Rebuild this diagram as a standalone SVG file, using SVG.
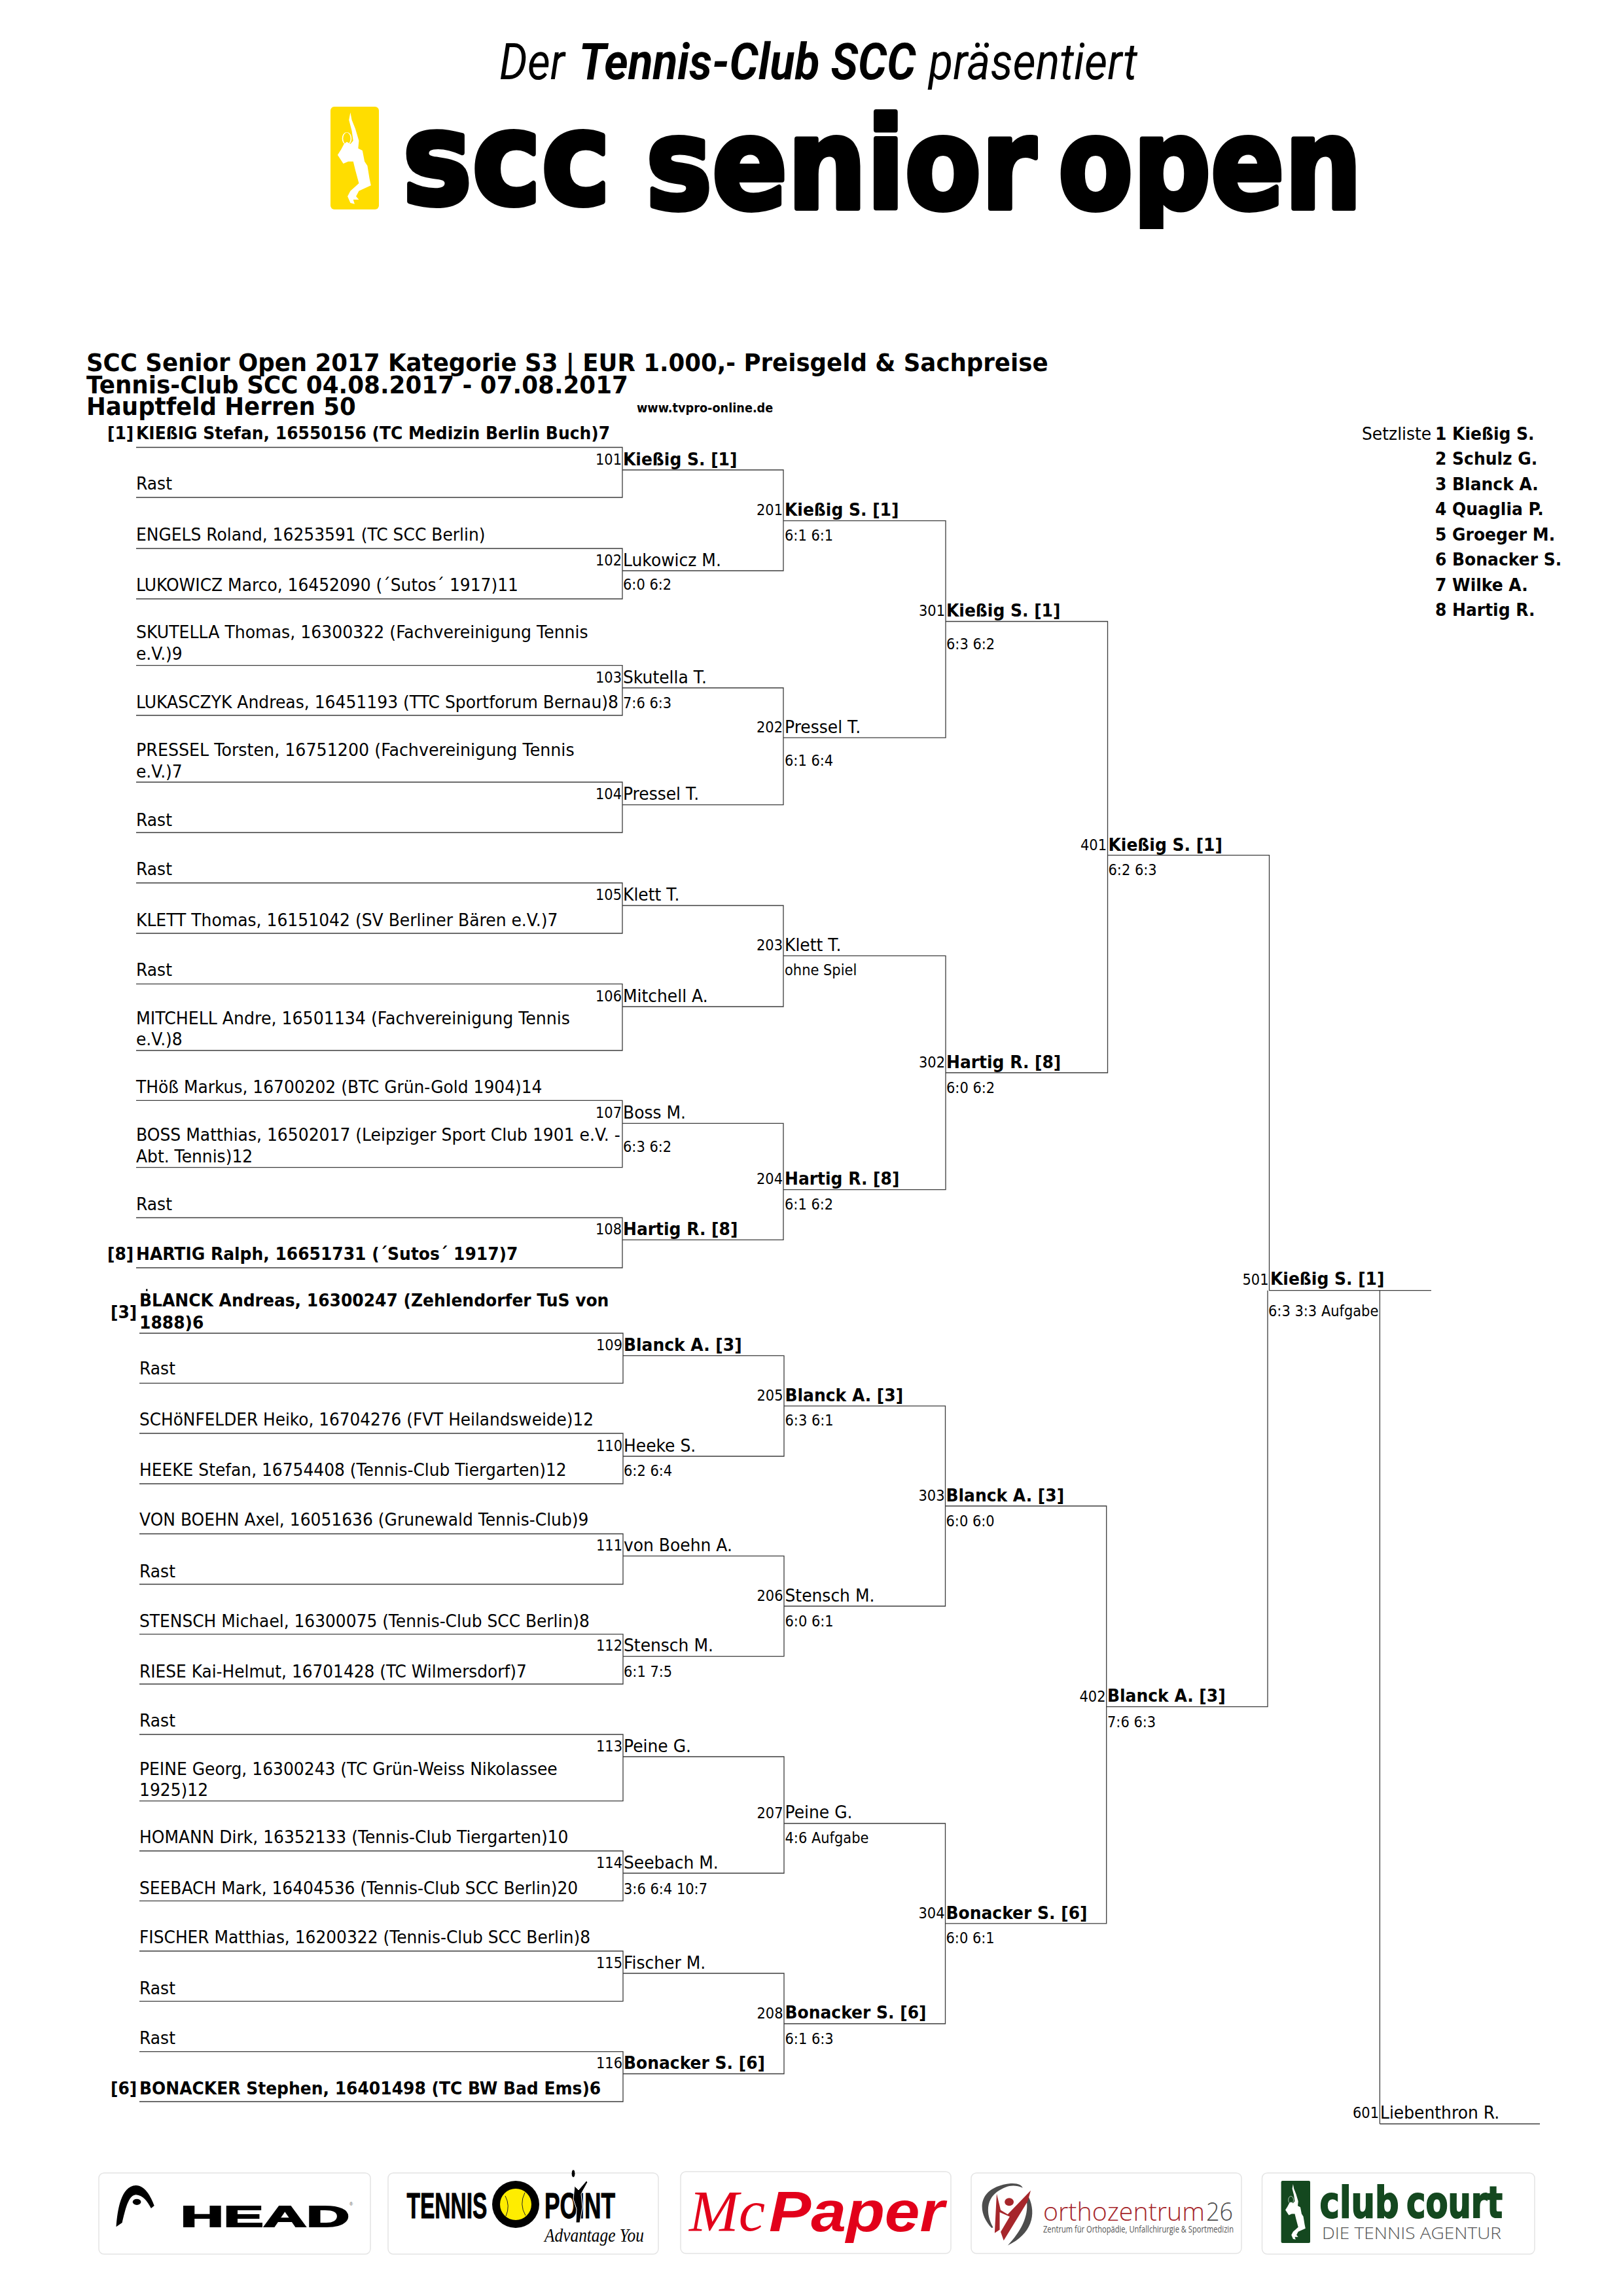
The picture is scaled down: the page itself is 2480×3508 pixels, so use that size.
<svg xmlns="http://www.w3.org/2000/svg" xmlns:xlink="http://www.w3.org/1999/xlink" width="2480" height="3508" viewBox="0 0 2480 3508">
<style>
text{font-family:"DejaVu Sans","Liberation Sans",sans-serif;fill:#000}
.st text{transform-box:fill-box;transform-origin:0 100%;transform:scaleY(1.07)}
.p{font-size:25px}
.b{font-size:25px;font-weight:700}
.n{font-size:21px;text-anchor:end}
.s{font-size:21px}
.t{font-size:35.6px;font-weight:700}
.h{font-family:Roboto,"Liberation Sans",sans-serif;font-size:77px;font-style:italic}
.l{font-weight:700;stroke:#000;stroke-width:8px;stroke-linejoin:round}
.box{fill:#fff;stroke:#e4e4e4;stroke-width:1.5}
.c path{fill:none;stroke:#3c3c3c;stroke-width:1.3}
</style>
<defs>
<g id="player"><path d="M88,455L90,490L95,530L100,585L99,620L105,630L108,680L112,700L115,760L117,790L100,815L96,840L100,855L92,855L94,875L88,870L84,840L88,815L95,795L100,780L95,720L92,680L85,680L78,690L70,650L75,625L79,600L83,590L88,600L92,585L90,540L86,490Z"/><ellipse cx="83" cy="575" rx="6" ry="28" fill="none" stroke="#fff" stroke-width="1.5"/></g>
<clipPath id="logoclip"><rect x="600" y="150" width="1500" height="200"/></clipPath>
</defs>
<rect width="2480" height="3508" fill="#fff"/>

<g id="header">
<text class="h" x="763" y="120.7" textLength="100" lengthAdjust="spacingAndGlyphs">Der</text>
<text class="h" x="884.5" y="120.7" font-weight="700" textLength="515" lengthAdjust="spacingAndGlyphs">Tennis-Club SCC</text>
<text class="h" x="1419" y="120.7" textLength="319" lengthAdjust="spacingAndGlyphs">präsentiert</text>
</g>
<g id="logo-scc">
<rect x="505" y="163" width="74" height="157" rx="6" fill="#ffdd00"/>
<g transform="translate(440,20) scale(1.0841,0.3333)" fill="#fff"><use xlink:href="#player" href="#player"/></g>
<g clip-path="url(#logoclip)">
<text class="l" x="615" y="311" style="font-size:197px" textLength="318" lengthAdjust="spacingAndGlyphs">scc</text>
<text class="l" x="987" y="318" style="font-size:192px" textLength="596" lengthAdjust="spacingAndGlyphs">senior</text>
<text class="l" x="1617" y="318" style="font-size:192px" textLength="464" lengthAdjust="spacingAndGlyphs">open</text>
</g>
</g>

<g id="title" class="st">
<text class="t" x="132" y="568">SCC Senior Open 2017 Kategorie S3 | EUR 1.000,- Preisgeld &amp; Sachpreise</text>
<text class="t" x="132" y="601.7" textLength="828" lengthAdjust="spacingAndGlyphs">Tennis-Club SCC 04.08.2017 - 07.08.2017</text>
<text class="t" x="132" y="635">Hauptfeld Herren 50</text>
<text x="973" y="630.7" style="font-size:17.7px;font-weight:700">www.tvpro-online.de</text>
</g>

<g id="seed-list" class="st">
<text class="p" x="2081" y="672.7">Setzliste</text>
<text class="b" x="2193" y="672.7">1 Kießig S.</text>
<text class="b" x="2193" y="710.7">2 Schulz G.</text>
<text class="b" x="2193" y="749.3">3 Blanck A.</text>
<text class="b" x="2193" y="787.7">4 Quaglia P.</text>
<text class="b" x="2193" y="826">5 Groeger M.</text>
<text class="b" x="2193" y="864.3">6 Bonacker S.</text>
<text class="b" x="2193" y="903.3">7 Wilke A.</text>
<text class="b" x="2193" y="941.7">8 Hartig R.</text>
</g>

<g id="connectors" class="c">
<path d="M208,683.5H951V760H208"/>
<path d="M208,838H951V915H208"/>
<path d="M208,1016.6H951V1093H208"/>
<path d="M208,1195H951V1272H208"/>
<path d="M208,1349H951V1426H208"/>
<path d="M208,1503.4H951V1605H208"/>
<path d="M208,1681.4H951V1783.6H208"/>
<path d="M208,1860.5H951V1937H208"/>
<path d="M213,2037H952V2113.3H213"/>
<path d="M213,2190H952V2267H213"/>
<path d="M213,2343.5H952V2420.5H213"/>
<path d="M213,2496.8H952V2573H213"/>
<path d="M213,2650H952V2751.7H213"/>
<path d="M213,2828H952V2904.4H213"/>
<path d="M213,2981H952V3057.7H213"/>
<path d="M213,3134.6H952V3211H213"/>
<path d="M951,718H1197V872H951"/>
<path d="M951,1051H1197V1229.6H951"/>
<path d="M951,1383.5H1197V1538H951"/>
<path d="M951,1716.4H1197V1894.4H951"/>
<path d="M952,2071.3H1198V2225H952"/>
<path d="M952,2377.4H1198V2530.7H952"/>
<path d="M952,2684H1198V2862H952"/>
<path d="M952,3015H1198V3168.5H952"/>
<path d="M1197,795.6H1445V1127.2H1197"/>
<path d="M1197,1460.4H1445V1817.6H1197"/>
<path d="M1198,2148.2H1444.5V2454H1198"/>
<path d="M1198,2786H1444.5V3092H1198"/>
<path d="M1445,949.5H1692.5V1639H1445"/>
<path d="M1444.5,2301H1690.7V2938.8H1444.5"/>
<path d="M1692.5,1306.6H1939.5V1971.7"/>
<path d="M1690.7,2607.7H1937V1971.7"/>
<path d="M1939,1971.7H2187"/>
<path d="M2108.4,1971.7V3245"/>
<path d="M2108.4,3245H2353"/>
</g>

<g id="players-top" class="st">
<g id="p1"><text class="b" x="164" y="671.7">[1]</text><text class="b" x="208" y="671.7">KIEßIG Stefan, 16550156 (TC Medizin Berlin Buch)7</text></g>
<g id="p2"><text class="p" x="208" y="748.3">Rast</text></g>
<g id="p3"><text class="p" x="208" y="826" textLength="533.5" lengthAdjust="spacingAndGlyphs">ENGELS Roland, 16253591 (TC SCC Berlin)</text></g>
<g id="p4"><text class="p" x="208" y="903" textLength="584" lengthAdjust="spacingAndGlyphs">LUKOWICZ Marco, 16452090 (´Sutos´ 1917)11</text></g>
<g id="p5"><text class="p" x="208" y="975.7" textLength="690.7" lengthAdjust="spacingAndGlyphs">SKUTELLA Thomas, 16300322 (Fachvereinigung Tennis</text><text class="p" x="208" y="1008.6">e.V.)9</text></g>
<g id="p6"><text class="p" x="208" y="1082" textLength="737" lengthAdjust="spacingAndGlyphs">LUKASCZYK Andreas, 16451193 (TTC Sportforum Bernau)8</text></g>
<g id="p7"><text class="p" x="208" y="1155.6" textLength="669.6" lengthAdjust="spacingAndGlyphs">PRESSEL Torsten, 16751200 (Fachvereinigung Tennis</text><text class="p" x="208" y="1188.9">e.V.)7</text></g>
<g id="p8"><text class="p" x="208" y="1262">Rast</text></g>
<g id="p9"><text class="p" x="208" y="1337.5">Rast</text></g>
<g id="p10"><text class="p" x="208" y="1415" textLength="644.4" lengthAdjust="spacingAndGlyphs">KLETT Thomas, 16151042 (SV Berliner Bären e.V.)7</text></g>
<g id="p11"><text class="p" x="208" y="1491.4">Rast</text></g>
<g id="p12"><text class="p" x="208" y="1565.4" textLength="663" lengthAdjust="spacingAndGlyphs">MITCHELL Andre, 16501134 (Fachvereinigung Tennis</text><text class="p" x="208" y="1597.6">e.V.)8</text></g>
<g id="p13"><text class="p" x="208" y="1670.5" textLength="620.5" lengthAdjust="spacingAndGlyphs">THöß Markus, 16700202 (BTC Grün-Gold 1904)14</text></g>
<g id="p14"><text class="p" x="208" y="1743.4" textLength="739.8" lengthAdjust="spacingAndGlyphs">BOSS Matthias, 16502017 (Leipziger Sport Club 1901 e.V. -</text><text class="p" x="208" y="1776">Abt. Tennis)12</text></g>
<g id="p15"><text class="p" x="208" y="1849.6">Rast</text></g>
<g id="p16"><text class="b" x="164" y="1925">[8]</text><text class="b" x="208" y="1925">HARTIG Ralph, 16651731 (´Sutos´ 1917)7</text></g>
</g>

<g id="players-bottom" class="st">
<g id="p17"><rect x="223" y="1969.5" width="2.5" height="3" fill="#000"/><text class="b" x="169" y="2014">[3]</text><text class="b" x="213" y="1996.7">BLANCK Andreas, 16300247 (Zehlendorfer TuS von</text><text class="b" x="213" y="2030">1888)6</text></g>
<g id="p18"><text class="p" x="213" y="2100.7">Rast</text></g>
<g id="p19"><text class="p" x="213" y="2178" textLength="694" lengthAdjust="spacingAndGlyphs">SCHöNFELDER Heiko, 16704276 (FVT Heilandsweide)12</text></g>
<g id="p20"><text class="p" x="213" y="2255" textLength="652.7" lengthAdjust="spacingAndGlyphs">HEEKE Stefan, 16754408 (Tennis-Club Tiergarten)12</text></g>
<g id="p21"><text class="p" x="213" y="2331.7" textLength="686.4" lengthAdjust="spacingAndGlyphs">VON BOEHN Axel, 16051636 (Grunewald Tennis-Club)9</text></g>
<g id="p22"><text class="p" x="213" y="2410">Rast</text></g>
<g id="p23"><text class="p" x="213" y="2486" textLength="687.8" lengthAdjust="spacingAndGlyphs">STENSCH Michael, 16300075 (Tennis-Club SCC Berlin)8</text></g>
<g id="p24"><text class="p" x="213" y="2563.4" textLength="591.7" lengthAdjust="spacingAndGlyphs">RIESE Kai-Helmut, 16701428 (TC Wilmersdorf)7</text></g>
<g id="p25"><text class="p" x="213" y="2638.6">Rast</text></g>
<g id="p26"><text class="p" x="213" y="2712" textLength="638.7" lengthAdjust="spacingAndGlyphs">PEINE Georg, 16300243 (TC Grün-Weiss Nikolassee</text><text class="p" x="213" y="2744.8">1925)12</text></g>
<g id="p27"><text class="p" x="213" y="2816.6" textLength="655.5" lengthAdjust="spacingAndGlyphs">HOMANN Dirk, 16352133 (Tennis-Club Tiergarten)10</text></g>
<g id="p28"><text class="p" x="213" y="2894" textLength="670.2" lengthAdjust="spacingAndGlyphs">SEEBACH Mark, 16404536 (Tennis-Club SCC Berlin)20</text></g>
<g id="p29"><text class="p" x="213" y="2969.8" textLength="689.2" lengthAdjust="spacingAndGlyphs">FISCHER Matthias, 16200322 (Tennis-Club SCC Berlin)8</text></g>
<g id="p30"><text class="p" x="213" y="3047">Rast</text></g>
<g id="p31"><text class="p" x="213" y="3123.7">Rast</text></g>
<g id="p32"><text class="b" x="169" y="3200">[6]</text><text class="b" x="213" y="3200">BONACKER Stephen, 16401498 (TC BW Bad Ems)6</text></g>
</g>

<g id="round1" class="st">
<g id="m101"><text class="n" x="950" y="710">101</text><text class="b" x="952" y="711.6">Kießig S. [1]</text></g>
<g id="m102"><text class="n" x="950" y="864">102</text><text class="p" x="952" y="865">Lukowicz M.</text><text class="s" x="952" y="901.7">6:0 6:2</text></g>
<g id="m103"><text class="n" x="950" y="1043">103</text><text class="p" x="952" y="1044">Skutella T.</text><text class="s" x="952" y="1082">7:6 6:3</text></g>
<g id="m104"><text class="n" x="950" y="1221.6">104</text><text class="p" x="952" y="1222.6">Pressel T.</text></g>
<g id="m105"><text class="n" x="950" y="1375.5">105</text><text class="p" x="952" y="1376.5">Klett T.</text></g>
<g id="m106"><text class="n" x="950" y="1530">106</text><text class="p" x="952" y="1531">Mitchell A.</text></g>
<g id="m107"><text class="n" x="950" y="1708.4">107</text><text class="p" x="952" y="1709.4">Boss M.</text><text class="s" x="952" y="1760.6">6:3 6:2</text></g>
<g id="m108"><text class="n" x="950" y="1886.4">108</text><text class="b" x="952" y="1887.4">Hartig R. [8]</text></g>
<g id="m109"><text class="n" x="951" y="2063.3">109</text><text class="b" x="953" y="2064.3">Blanck A. [3]</text></g>
<g id="m110"><text class="n" x="951" y="2217">110</text><text class="p" x="953" y="2218">Heeke S.</text><text class="s" x="953" y="2255">6:2 6:4</text></g>
<g id="m111"><text class="n" x="951" y="2369.4">111</text><text class="p" x="953" y="2370.4">von Boehn A.</text></g>
<g id="m112"><text class="n" x="951" y="2522.7">112</text><text class="p" x="953" y="2523.7">Stensch M.</text><text class="s" x="953" y="2562">6:1 7:5</text></g>
<g id="m113"><text class="n" x="951" y="2676">113</text><text class="p" x="953" y="2677">Peine G.</text></g>
<g id="m114"><text class="n" x="951" y="2854">114</text><text class="p" x="953" y="2855">Seebach M.</text><text class="s" x="953" y="2894">3:6 6:4 10:7</text></g>
<g id="m115"><text class="n" x="951" y="3007">115</text><text class="p" x="953" y="3008">Fischer M.</text></g>
<g id="m116"><text class="n" x="951" y="3160.5">116</text><text class="b" x="953" y="3161.5">Bonacker S. [6]</text></g>
</g>

<g id="round2" class="st">
<g id="m201"><text class="n" x="1196" y="787.6">201</text><text class="b" x="1199" y="788.6">Kießig S. [1]</text><text class="s" x="1199" y="826">6:1 6:1</text></g>
<g id="m202"><text class="n" x="1196" y="1119.2">202</text><text class="p" x="1199" y="1120.7">Pressel T.</text><text class="s" x="1199" y="1170">6:1 6:4</text></g>
<g id="m203"><text class="n" x="1196" y="1452.4">203</text><text class="p" x="1199" y="1453.4">Klett T.</text><text class="s" x="1199" y="1490">ohne Spiel</text></g>
<g id="m204"><text class="n" x="1196" y="1809.6">204</text><text class="b" x="1199" y="1810.6">Hartig R. [8]</text><text class="s" x="1199" y="1848">6:1 6:2</text></g>
<g id="m205"><text class="n" x="1196.5" y="2140.2">205</text><text class="b" x="1199.5" y="2141.2">Blanck A. [3]</text><text class="s" x="1199.5" y="2178">6:3 6:1</text></g>
<g id="m206"><text class="n" x="1196.5" y="2446">206</text><text class="p" x="1199.5" y="2447">Stensch M.</text><text class="s" x="1199.5" y="2485">6:0 6:1</text></g>
<g id="m207"><text class="n" x="1196.5" y="2778">207</text><text class="p" x="1199.5" y="2778.5">Peine G.</text><text class="s" x="1199.5" y="2816">4:6 Aufgabe</text></g>
<g id="m208"><text class="n" x="1196.5" y="3084">208</text><text class="b" x="1199.5" y="3084.7">Bonacker S. [6]</text><text class="s" x="1199.5" y="3123">6:1 6:3</text></g>
</g>

<g id="round3" class="st">
<g id="m301"><text class="n" x="1444" y="941.5">301</text><text class="b" x="1446" y="942.5">Kießig S. [1]</text><text class="s" x="1446" y="992.5">6:3 6:2</text></g>
<g id="m302"><text class="n" x="1444" y="1631">302</text><text class="b" x="1446" y="1632.5">Hartig R. [8]</text><text class="s" x="1446" y="1670">6:0 6:2</text></g>
<g id="m303"><text class="n" x="1443.5" y="2293">303</text><text class="b" x="1445.5" y="2294">Blanck A. [3]</text><text class="s" x="1445.5" y="2332">6:0 6:0</text></g>
<g id="m304"><text class="n" x="1443.5" y="2931">304</text><text class="b" x="1445.5" y="2932">Bonacker S. [6]</text><text class="s" x="1445.5" y="2969.7">6:0 6:1</text></g>
</g>

<g id="round4" class="st">
<g id="m401"><text class="n" x="1691" y="1299">401</text><text class="b" x="1693.5" y="1300">Kießig S. [1]</text><text class="s" x="1693.5" y="1337.7">6:2 6:3</text></g>
<g id="m402"><text class="n" x="1689.5" y="2600">402</text><text class="b" x="1692" y="2600.7">Blanck A. [3]</text><text class="s" x="1692" y="2639.3">7:6 6:3</text></g>
</g>

<g id="final" class="st">
<g id="m501"><text class="n" x="1938.5" y="1963">501</text><text class="b" x="1941" y="1963.3">Kießig S. [1]</text><text class="s" x="1938" y="2011.7">6:3 3:3 Aufgabe</text></g>
<g id="m601"><text class="n" x="2107" y="3236">601</text><text class="p" x="2109" y="3237">Liebenthron R.</text></g>
</g>

<g id="sponsor-head">
<rect class="box" x="151" y="3320" width="415" height="124" rx="8"/>
<g transform="translate(120,3150) scale(0.7015,0.3333)"><path d="M82,757C85,680 92,570 125,567C145,567 158,620 165,660L158,672C150,640 140,612 125,610C108,612 102,680 95,738Z"/><ellipse cx="127" cy="643" rx="9" ry="14"/></g>
<text x="276" y="3402" textLength="258" lengthAdjust="spacingAndGlyphs" style="font-family:'Liberation Sans',sans-serif;font-weight:700;font-size:44px;stroke:#000;stroke-width:2px">HEAD</text>
<text x="534" y="3370" style="font-family:'Liberation Sans',sans-serif;font-size:7px;fill:#555">®</text>
</g>
<g id="sponsor-tennispoint">
<rect class="box" x="593" y="3320" width="413" height="124" rx="8"/>
<text x="621.5" y="3389" textLength="123" lengthAdjust="spacingAndGlyphs" style="font-family:'Liberation Sans',sans-serif;font-weight:700;font-size:56px;stroke:#000;stroke-width:1px">TENNIS</text>
<circle cx="788" cy="3368" r="36"/>
<circle cx="788" cy="3368" r="24" fill="#ffed00"/>
<path d="M772,3355Q780,3370 773,3386M802,3350Q793,3368 803,3385" fill="none" stroke="#222" stroke-width="1"/>
<text x="832" y="3389" textLength="108" lengthAdjust="spacingAndGlyphs" style="font-family:'Liberation Sans',sans-serif;font-weight:700;font-size:56px;stroke:#000;stroke-width:1px">POINT</text>
<path d="M876,3327a3,6 0 1,1 .1,0ZM878,3340L884,3346L896,3332L898,3334L888,3352L890,3372L886,3396L880,3396L881,3375L876,3360Z" fill="#000" stroke="#fff" stroke-width="1"/>
<text x="832" y="3425" textLength="152" lengthAdjust="spacingAndGlyphs" style="font-family:'Liberation Serif',serif;font-style:italic;font-size:30px">Advantage You</text>
</g>
<g id="sponsor-mcpaper">
<rect class="box" x="1040" y="3318" width="413" height="125" rx="8"/>
<text x="1053" y="3408" textLength="116" lengthAdjust="spacingAndGlyphs" style="font-family:'Liberation Serif',serif;font-style:italic;font-size:88px;fill:#e2001a">Mc</text>
<text x="1175" y="3409" textLength="268" lengthAdjust="spacingAndGlyphs" style="font-family:'Liberation Sans',sans-serif;font-weight:700;font-style:italic;font-size:87px;fill:#e2001a">Paper</text>
</g>
<g id="sponsor-ortho">
<rect class="box" x="1484" y="3320" width="413" height="123" rx="8"/>
<g transform="translate(1200,3150) scale(0.7653,0.3333)">
<path d="M412,762C382,690 382,575 450,558C465,556 472,566 474,578C462,566 450,566 440,575C400,610 398,690 415,760Z" fill="#4d4d4d"/>
<path d="M486,620C502,700 492,790 444,842C470,780 486,710 482,640Z" fill="#4d4d4d"/>
<path d="M422,605L430,680L444,700L490,590L484,640L436,820L430,780L448,710L428,690L428,770L418,785Z" fill="#a6262b"/>
<ellipse cx="447" cy="643" rx="9" ry="18" fill="#a6262b"/>
</g>
<text x="1594" y="3392.7" textLength="247" lengthAdjust="spacingAndGlyphs" style="font-family:'Open Sans',sans-serif;font-weight:300;font-size:39px;fill:#a6262b">orthozentrum</text>
<text x="1843" y="3392.7" textLength="41" lengthAdjust="spacingAndGlyphs" style="font-family:'Open Sans',sans-serif;font-weight:300;font-size:39px;fill:#4d4d4d">26</text>
<text x="1594" y="3410.7" textLength="291" lengthAdjust="spacingAndGlyphs" style="font-family:'Open Sans',sans-serif;font-size:15px;fill:#555">Zentrum für Orthopädie, Unfallchirurgie &amp; Sportmedizin</text>
</g>
<g id="sponsor-clubcourt">
<rect class="box" x="1928.5" y="3320" width="416.5" height="124" rx="8"/>
<rect x="1957.6" y="3332" width="44.4" height="95" rx="2" fill="#14481f"/>
<g transform="translate(1918.4,3245.1) scale(0.653,0.202)" fill="#fff"><use xlink:href="#player" href="#player"/></g>
<text x="2016.6" y="3388" textLength="121" lengthAdjust="spacingAndGlyphs" style="font-family:'DejaVu Sans',sans-serif;font-weight:700;font-size:66px;fill:#14481f;stroke:#14481f;stroke-width:2px">club</text>
<text x="2149" y="3388" textLength="147" lengthAdjust="spacingAndGlyphs" style="font-family:'DejaVu Sans',sans-serif;font-weight:700;font-size:66px;fill:#14481f;stroke:#14481f;stroke-width:2px">court</text>
<text x="2020" y="3420.7" textLength="274" lengthAdjust="spacingAndGlyphs" style="font-family:'Open Sans',sans-serif;font-weight:300;font-size:26px;fill:#555">DIE TENNIS AGENTUR</text>
</g>
</svg>
